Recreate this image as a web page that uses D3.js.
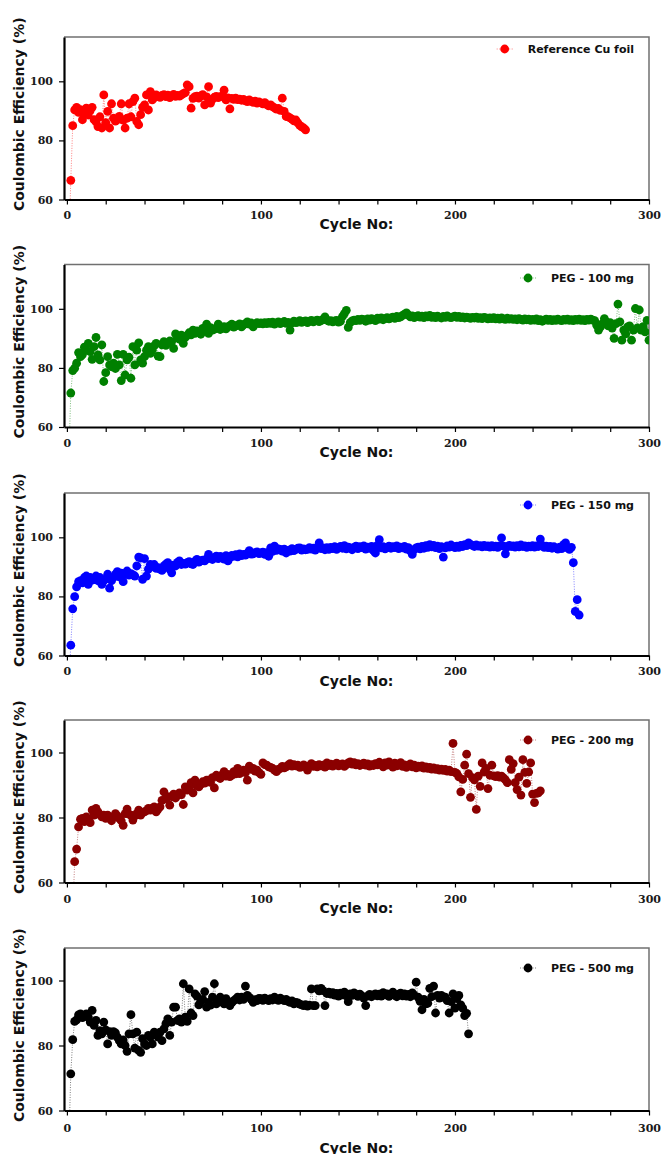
<!DOCTYPE html>
<html>
<head>
<meta charset="utf-8">
<script src="https://cdn.jsdelivr.net/npm/d3@7"></script>
<style>
  html, body { margin: 0; padding: 0; background: #ffffff; }
  svg { display: block; }
</style>
</head>
<body>
<svg id="chart" width="662" height="1154"></svg>
<script>
// Coulombic efficiency (%) per cycle, cycle number = index + 1 (null = not measured)
const cuFoil = [
  45.0, 66.5, 85.0, 90.3, 91.2, 89.5, 90.4, 87.0, 89.2, 90.9,
  88.6, 90.1, 91.2, 87.0, 86.3, 84.7, 88.0, 84.2, 95.4, 86.0,
  89.8, 84.2, 92.4, 87.5, 86.5, 87.0, 88.1, 92.4, 86.9, 84.2,
  87.5, 92.4, 88.0, 93.1, 94.3, 86.4, 85.3, 88.7, 91.2, 92.0,
  95.4, 90.3, 96.5, 93.7, 94.5, 95.4, 95.0, 94.6, 95.2, 95.5,
  94.8, 95.3, 94.5, 95.1, 95.6, 94.9, 95.2, 95.0, 95.4, 95.8,
  96.2, 98.8, 98.2, 90.9, 94.2, 94.8, 95.0, 94.3, 95.1, 95.5,
  92.0, 94.7, 98.2, 92.6, 94.0, 94.6, 94.9, 94.5, 94.8, 95.0,
  97.0, 93.7, 94.4, 90.7, 94.2, 93.9, 94.3, 93.8, 94.0, 93.6,
  93.9, 93.4, 93.1, 93.7, 93.2, 92.9, 93.3, 92.6, 93.0, 92.7,
  92.4, 92.8, 92.1, 91.7, 92.0, 91.4, 91.0, 90.6, 90.8, 90.2,
  94.3, 89.8, 88.1, 88.0, 87.6, 87.2, 86.6, 86.9, 85.9, 85.1,
  84.6, 84.2, 83.6
];

const peg100 = [
  50.0, 71.5, 79.1, 79.9, 81.6, 85.2, 83.8, 84.5, 87.0, 86.0,
  88.3, 85.5, 82.9, 87.2, 90.3, 84.4, 82.7, 87.8, 75.4, 78.4,
  83.8, 81.0, 80.4, 81.6, 79.8, 84.6, 81.0, 75.7, 84.6, 77.6,
  82.7, 83.6, 76.5, 87.2, 81.0, 86.0, 88.5, 82.7, 81.6, 83.8,
  86.0, 87.2, 84.9, 86.0, 87.5, 88.3, 84.0, 83.8, 87.8, 88.9,
  87.6, 88.3, 89.1, 88.9, 86.6, 91.5, 90.3, 89.7, 91.1, 88.3,
  90.3, 91.0, 91.9, 91.2, 92.8, 91.7, 92.5, 92.2, 91.4, 93.4,
  92.9, 94.8, 91.7, 93.6, 92.8, 93.1, 93.4, 94.8, 93.0, 93.4,
  94.0, 93.2, 93.9, 94.3, 94.8, 93.8, 94.2, 94.5, 94.9, 93.9,
  94.6, 95.0, 95.6, 94.8, 95.2, 93.9, 94.9, 95.3, 95.0, 95.2,
  94.9, 95.3, 95.0, 95.4, 95.1, 95.5, 94.8, 95.2, 95.6, 95.0,
  95.3, 95.7, 95.1, 95.4, 92.8, 95.2, 95.8, 95.3, 95.5, 96.0,
  95.4, 95.7, 95.9, 95.3, 95.8, 96.1, 95.6, 95.9, 96.2, 95.7,
  96.0, 96.4, 97.3, 96.2, 95.8, 96.0, 95.6, 95.9, 96.1, 95.5,
  95.8, 97.4, 98.4, 99.5, 93.7, 95.3, 95.9, 96.2, 96.0, 96.4,
  96.1, 96.5, 96.3, 95.8, 96.6, 96.2, 96.7, 96.4, 96.0, 96.8,
  96.5, 96.9, 96.3, 96.7, 97.0, 96.6, 96.9, 97.2, 96.8, 97.4,
  97.0, 97.3, 97.8, 98.2, 98.6, 97.9, 97.3, 97.6, 97.0, 97.4,
  97.7, 97.2, 97.5, 97.0, 97.6, 97.3, 97.8, 97.1, 97.4, 97.0,
  97.5, 97.2, 96.9, 97.4, 97.1, 97.6, 97.2, 97.0, 97.3, 97.5,
  97.1, 97.4, 97.0, 97.3, 96.9, 97.2, 97.0, 96.8, 97.1, 96.9,
  97.2, 96.8, 97.0, 96.7, 97.1, 96.9, 96.6, 96.9, 96.7, 97.0,
  96.6, 96.8, 96.5, 96.9, 96.6, 96.4, 96.8, 96.5, 96.7, 96.4,
  96.6, 96.3, 96.7, 96.4, 96.2, 96.6, 96.3, 96.5, 96.1, 96.4,
  96.2, 96.6, 96.0, 96.3, 95.8, 96.2, 96.5, 96.1, 96.4, 96.0,
  96.3, 96.1, 96.5, 96.2, 96.0, 96.4, 96.2, 96.5, 96.1, 96.3,
  96.0, 96.4, 96.2, 96.5, 96.1, 96.3, 96.0, 96.4, 96.2, 96.5,
  96.2, 96.0, 94.5, 92.8, 93.9, 95.0, 96.7, 95.6, 94.2, 95.3,
  93.5, 90.0, 95.0, 101.6, 95.6, 89.4, 92.8, 91.5, 93.9, 94.2,
  89.4, 92.8, 100.1, 93.5, 99.6, 92.8, 94.0, 92.2, 96.1, 89.4
];

const peg150 = [
  50.0, 63.5, 75.8, 79.9, 83.2, 85.0, 85.3, 84.6, 86.4, 86.9,
  84.1, 86.4, 85.5, 85.8, 86.9, 85.3, 86.4, 84.1, 85.3, 85.9,
  87.5, 82.8, 85.3, 86.4, 87.5, 88.4, 86.6, 87.9, 85.0, 87.5,
  88.6, 87.2, 87.7, 87.3, 86.9, 90.3, 93.3, 93.0, 85.8, 92.8,
  86.9, 89.2, 90.8, 90.1, 90.8, 89.5, 89.7, 89.2, 88.8, 90.3,
  90.9, 91.4, 89.2, 88.0, 90.6, 90.3, 91.5, 92.0, 90.8, 91.2,
  90.9, 91.4, 91.8, 91.0, 90.8, 91.9, 92.5, 91.6, 92.0, 92.3,
  92.0, 92.7, 94.2, 92.9, 92.5, 93.1, 93.6, 92.8, 93.5, 93.3,
  92.6, 93.8, 92.0, 93.1, 93.9, 93.6, 94.1, 93.4, 94.4, 93.8,
  94.2, 94.0, 94.6, 95.5, 94.3, 94.4, 94.8, 95.1, 94.5, 94.7,
  95.0, 94.2, 94.8, 93.6, 96.4, 95.2, 97.0, 95.6, 96.1, 95.9,
  95.3, 96.0, 94.7, 95.6, 95.3, 96.2, 95.5, 95.9, 96.3, 96.4,
  95.7, 96.1, 95.8, 95.9, 96.5, 96.0, 96.3, 95.7, 96.6, 98.1,
  96.2, 96.4, 95.8, 96.5, 95.9, 96.6, 96.2, 96.8, 95.9, 96.5,
  96.9, 96.3, 97.2, 96.1, 96.7, 96.4, 95.8, 96.6, 97.0, 96.2,
  96.8, 96.5, 97.1, 96.0, 96.7, 96.3, 96.9, 95.5, 94.7, 97.3,
  99.2, 96.4, 96.8, 96.1, 96.6, 97.0, 96.3, 96.8, 96.5, 97.1,
  96.2, 96.7, 96.4, 96.9, 96.0, 96.5, 95.4, 94.2, 95.8, 96.4,
  96.7, 96.1, 96.9, 96.3, 97.2, 96.6, 97.5, 96.8, 97.3, 96.5,
  97.0, 96.2, 96.8, 93.3, 96.4, 97.1, 96.7, 97.4, 96.9, 96.5,
  97.0, 96.6, 97.3, 96.9, 97.5, 97.2, 98.1, 97.6, 97.3, 96.9,
  97.4, 97.0, 97.2, 96.8, 97.3, 96.9, 97.1, 96.7, 97.2, 96.8,
  97.0, 96.6, 97.1, 99.8, 97.0, 94.4, 96.8, 97.3, 96.9, 97.1,
  96.7, 97.2, 96.8, 97.4, 96.9, 97.1, 96.6, 97.0, 96.8, 97.2,
  96.7, 97.1, 96.9, 99.4, 97.3, 96.6, 97.0, 96.5, 96.9, 96.3,
  96.8, 96.4, 96.0, 96.7, 96.2, 97.5, 98.1, 96.4, 95.9, 96.6,
  91.4, 74.9, 78.9, 73.7
];

const peg200 = [
  null, null, 50.0, 66.4, 70.3, 77.1, 79.5, 79.7, 78.7, 80.2,
  79.3, 78.4, 82.3, 80.7, 82.8, 81.7, 80.9, 80.2, 80.7, 79.7,
  80.7, 80.1, 79.0, 80.2, 81.2, 80.5, 79.7, 79.0, 77.6, 81.2,
  82.6, 81.0, 80.7, 79.2, 80.5, 81.2, 82.3, 80.7, 81.5, 81.7,
  82.1, 82.8, 82.3, 82.9, 83.3, 81.7, 82.6, 83.3, 85.3, 87.9,
  85.7, 86.4, 83.8, 86.4, 87.2, 86.0, 86.9, 87.6, 87.0, 84.0,
  89.4, 88.4, 89.0, 90.7, 87.6, 91.5, 89.8, 89.4, 90.3, 91.0,
  90.6, 91.5, 91.5, 90.8, 92.3, 89.1, 93.0, 92.4, 92.0, 93.1,
  94.1, 92.7, 93.3, 92.6, 93.0, 94.1, 93.4, 95.1, 93.5, 94.0,
  94.6, 93.8, 91.5, 95.8, 94.8, 95.1, 94.3, 94.6, 93.8, 93.3,
  96.8, 96.3, 96.1, 95.6, 95.4, 95.1, 94.6, 94.1, 94.8, 95.1,
  95.7, 95.3, 95.6, 96.1, 96.6, 95.8, 96.3, 95.9, 96.1, 95.4,
  95.6, 96.2, 95.8, 94.6, 95.9, 96.6, 95.7, 96.0, 95.6, 96.3,
  95.9, 96.1, 95.5, 96.8, 96.0, 96.4, 95.8, 96.3, 96.7, 95.9,
  96.2, 96.5, 95.7, 96.3, 96.8, 97.1, 96.4, 96.9, 96.2, 96.6,
  96.0, 96.4, 96.7, 96.1, 96.5, 95.8, 96.3, 96.0, 96.6, 96.2,
  97.0, 96.4, 95.6, 96.8, 96.1, 97.1, 96.3, 95.5, 96.7, 95.9,
  96.4, 96.9, 95.7, 96.2, 95.4, 96.0, 96.5, 95.6, 96.1, 95.3,
  95.8, 95.5, 95.9, 95.2, 95.6, 95.1, 95.4, 94.9, 95.3, 94.8,
  95.0, 94.6, 94.9, 94.5, 94.8, 94.3, 94.6, 94.1, 102.8, 93.9,
  93.5, 92.5, 87.9, 91.7, 96.1, 99.5, 93.5, 86.2, 92.3, 91.6,
  82.5, 92.7, 89.6, 96.8, 94.0, 95.1, 88.9, 93.0, 96.1, 92.8,
  92.6, 92.9, 92.4, 92.7, 92.2, 91.6, 90.7, 97.8, 94.8, 96.6,
  90.7, 88.6, 92.4, 86.9, 97.8, 93.9, 90.5, 94.0, 96.8, 87.2,
  84.6, 87.4, 87.6, 88.2
];

const peg500 = [
  50.0, 71.3, 81.8, 87.4, 87.9, 89.4, 89.7, 88.6, 89.0, 89.7,
  88.7, 87.2, 90.8, 86.2, 87.7, 83.1, 84.6, 83.6, 87.2, 84.8,
  80.5, 84.3, 83.1, 84.3, 83.9, 82.6, 81.5, 80.5, 81.7, 80.0,
  78.2, 83.6, 89.5, 83.6, 79.2, 84.1, 78.5, 77.9, 82.1, 80.5,
  80.0, 83.1, 82.6, 80.5, 84.1, 83.6, 82.6, 84.1, 81.5, 85.1,
  86.7, 88.2, 83.1, 87.2, 91.8, 91.8, 87.7, 88.2, 87.2, 99.0,
  88.7, 87.4, 97.4, 90.0, 89.2, 95.9, 95.2, 92.5, 93.6, 94.2,
  96.6, 91.8, 93.3, 92.4, 94.9, 99.0, 92.8, 93.8, 94.9, 93.5,
  92.8, 94.4, 93.5, 92.3, 93.2, 93.8, 94.3, 94.9, 94.0, 94.9,
  94.2, 98.3, 95.4, 94.8, 94.2, 93.3, 94.1, 93.8, 94.5, 94.4,
  93.9, 94.6, 94.2, 93.8, 94.4, 94.0, 94.9, 94.2, 93.9, 94.6,
  94.1, 93.8, 94.2, 93.6, 93.3, 93.7, 92.8, 93.3, 93.1, 92.7,
  92.5, 92.3, 92.6, 92.1, 92.4, 97.4, 92.3, 92.3, 97.4, 96.8,
  97.6, 96.9, 92.3, 96.0, 96.4, 95.8, 96.3, 95.5, 96.0, 95.2,
  96.1, 95.6, 96.4, 95.3, 93.5, 95.9, 95.4, 96.2, 95.7, 95.1,
  95.8, 95.3, 94.6, 92.3, 95.2, 95.7, 95.0, 95.6, 95.9, 95.3,
  95.8, 95.2, 96.3, 95.6, 95.9, 95.1, 95.7, 96.4, 95.4, 95.0,
  95.8, 96.1, 95.3, 95.9, 95.2, 95.7, 95.0, 96.2, 95.5, 99.5,
  94.9, 93.6, 91.0, 94.2, 92.8, 93.0, 97.6, 95.0, 98.3, 90.0,
  95.4, 94.6, 95.4, 94.8, 94.9, 93.8, 90.0, 93.5, 95.9, 91.5,
  94.4, 95.4, 92.5, 91.5, 89.2, 89.9, 83.6
];

const seriesValues = [cuFoil, peg100, peg150, peg200, peg500];
const seriesNames = ["Reference Cu foil", "PEG - 100 mg", "PEG - 150 mg", "PEG - 200 mg", "PEG - 500 mg"];
const seriesColors = ["#ff0000", "#008000", "#0000ff", "#8b0000", "#000000"];
const yMax = [115, 115, 115, 110, 110];
const yMin = 60;
const xDomain = [-1.5, 300];
const xTickValues = d3.range(0, 301, 20);
const xLabelled = [0, 100, 200, 300];
const yTickValues = [60, 80, 100];
const xTitle = "Cycle No:";
const yTitle = "Coulombic Efficiency (%)";

// panel geometry
const plotLeft = 64, plotRight = 649, plotHeight = 162.5;
const panelTops = [37, 264.5, 493, 720, 948];
const legendDy = [12, 13.5, 12, 20, 20];
const tickPad = [7, 7, 7, 8, 9];
const xTitleDy = [29, 30, 30, 30, 42];
const markerR = 4.4;

const svg = d3.select("#chart");
const x = d3.scaleLinear().domain(xDomain).range([plotLeft, plotRight]);

seriesValues.forEach((vals, i) => {
  const top = panelTops[i];
  const bottom = top + plotHeight;
  const y = d3.scaleLinear().domain([yMin, yMax[i]]).range([bottom, top]);
  const color = seriesColors[i];
  const pts = vals.map((v, k) => ({ cycle: k + 1, v })).filter(d => d.v !== null);

  const g = svg.append("g");

  const clipId = "clip" + i;
  g.append("clipPath").attr("id", clipId)
    .append("rect")
    .attr("x", plotLeft).attr("y", top)
    .attr("width", plotRight - plotLeft).attr("height", plotHeight);

  // plot frame: thin grey top and right edges
  g.append("path")
    .attr("d", `M${plotLeft},${top}H${plotRight}V${bottom}`)
    .attr("fill", "none").attr("stroke", "#707070").attr("stroke-width", 1.5);

  const data = g.append("g").attr("clip-path", `url(#${clipId})`);

  // dotted connector
  data.append("path")
    .datum(pts)
    .attr("fill", "none")
    .attr("stroke", color)
    .attr("stroke-opacity", 0.5)
    .attr("stroke-width", 1)
    .attr("stroke-dasharray", "1 1.5")
    .attr("d", d3.line().x(d => x(d.cycle)).y(d => y(d.v)));

  data.selectAll("circle")
    .data(pts)
    .join("circle")
    .attr("cx", d => x(d.cycle))
    .attr("cy", d => y(d.v))
    .attr("r", markerR)
    .attr("fill", color);

  // x axis
  const xAxis = d3.axisBottom(x)
    .tickValues(xTickValues)
    .tickSize(5)
    .tickSizeOuter(0)
    .tickPadding(tickPad[i])
    .tickFormat(d => xLabelled.includes(d) ? d : "");
  const gx = g.append("g").attr("transform", `translate(0,${bottom})`).call(xAxis);
  gx.select(".domain").attr("stroke", "#000").attr("stroke-width", 2.2);
  gx.selectAll(".tick line").attr("stroke", "#000").attr("stroke-width", 1.2);
  gx.selectAll(".tick text")
    .attr("font-family", "'DejaVu Serif', serif")
    .attr("font-weight", "bold")
    .attr("font-size", 11)
    .attr("fill", "#1a1a1a");

  // y axis
  const yAxis = d3.axisLeft(y)
    .tickValues(yTickValues)
    .tickSize(5)
    .tickSizeOuter(0)
    .tickPadding(6);
  const gy = g.append("g").attr("transform", `translate(${plotLeft},0)`).call(yAxis);
  gy.select(".domain").attr("stroke", "#000").attr("stroke-width", 2.2);
  gy.selectAll(".tick line").attr("stroke", "#000").attr("stroke-width", 1.2);
  gy.selectAll(".tick text")
    .attr("font-family", "'DejaVu Serif', serif")
    .attr("font-weight", "bold")
    .attr("font-size", 11)
    .attr("fill", "#1a1a1a");

  // axis titles
  g.append("text")
    .attr("x", (plotLeft + plotRight) / 2)
    .attr("y", bottom + xTitleDy[i])
    .attr("text-anchor", "middle")
    .attr("font-family", "'DejaVu Sans', sans-serif")
    .attr("font-weight", "bold")
    .attr("font-size", 14)
    .attr("fill", "#111")
    .text(xTitle);

  g.append("text")
    .attr("transform", `translate(23.5,${(top + bottom) / 2 - 4}) rotate(-90)`)
    .attr("text-anchor", "middle")
    .attr("font-family", "'DejaVu Sans', sans-serif")
    .attr("font-weight", "bold")
    .attr("font-size", 14)
    .attr("fill", "#111")
    .text(yTitle);

  // legend
  const ly = top + legendDy[i];
  const label = g.append("text")
    .attr("x", 634)
    .attr("y", ly)
    .attr("dy", "0.36em")
    .attr("text-anchor", "end")
    .attr("font-family", "'DejaVu Sans', sans-serif")
    .attr("font-weight", "bold")
    .attr("font-size", 11)
    .attr("fill", "#111")
    .text(seriesNames[i]);
  const lx = 634 - label.node().getComputedTextLength() - 23;
  g.append("line")
    .attr("x1", lx - 8).attr("x2", lx + 8)
    .attr("y1", ly).attr("y2", ly)
    .attr("stroke", color).attr("stroke-opacity", 0.5)
    .attr("stroke-width", 1).attr("stroke-dasharray", "1 1.5");
  g.append("circle").attr("cx", lx).attr("cy", ly).attr("r", markerR).attr("fill", color);
});
</script>
</body>
</html>
